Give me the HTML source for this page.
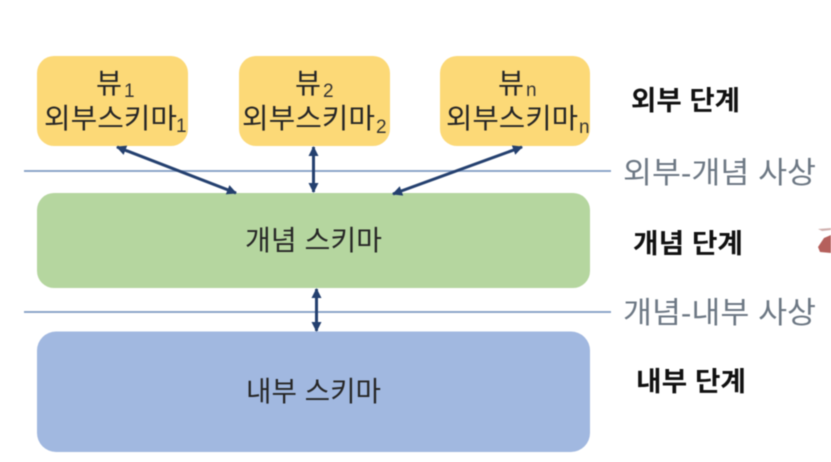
<!DOCTYPE html>
<html lang="ko">
<head>
<meta charset="utf-8">
<style>
html,body{margin:0;padding:0;background:#fff;width:831px;height:462px;overflow:hidden}
svg{display:block;filter:blur(.45px)}
text{font-family:"Liberation Sans","Noto Sans CJK KR",sans-serif}
.t{fill:#262626;font-size:28px}
.s{fill:#333;font-size:19px}
.b{fill:#111;font-size:27px;font-weight:700}
.m{fill:#6d7884;font-size:30px}
</style>
</head>
<body>
<svg width="831" height="462" viewBox="0 0 831 462" xmlns="http://www.w3.org/2000/svg">
<defs>
<marker id="a" viewBox="0 0 10 10" refX="9" refY="5" markerWidth="11" markerHeight="10" markerUnits="userSpaceOnUse" orient="auto-start-reverse"><path d="M0 0L10 5L0 10Z" fill="#24406f"/></marker>
</defs>
<rect width="831" height="462" fill="#fff"/>
<rect x="37" y="56" width="151" height="90" rx="17" fill="#fcd977"/>
<rect x="239" y="56" width="151" height="90" rx="17" fill="#fcd977"/>
<rect x="440" y="56" width="150" height="90" rx="17" fill="#fcd977"/>
<rect x="37" y="193" width="553" height="95" rx="17" fill="#b5d69f"/>
<rect x="37" y="331.500" width="553" height="120.500" rx="19" fill="#a1b8e0"/>
<line x1="24" y1="171" x2="611" y2="171" stroke="#7f9ac2" stroke-width="1.700"/>
<line x1="24" y1="312" x2="611" y2="312" stroke="#7f9ac2" stroke-width="1.700"/>
<g stroke="#24406f" stroke-width="3" marker-start="url(#a)" marker-end="url(#a)">
<line x1="117" y1="147" x2="236" y2="193"/>
<line x1="313.500" y1="147" x2="313.500" y2="192"/>
<line x1="393" y1="194" x2="522" y2="147"/>
<line x1="316.500" y1="289" x2="316.500" y2="331"/>
</g>
<text class="t" x="96" y="93" textLength="26" lengthAdjust="spacingAndGlyphs">뷰</text>
<text class="s" x="124" y="97">1</text>
<text class="t" x="44" y="128" textLength="133" lengthAdjust="spacingAndGlyphs">외부스키마</text>
<text class="s" x="176" y="132">1</text>
<text class="t" x="295" y="93" textLength="26" lengthAdjust="spacingAndGlyphs">뷰</text>
<text class="s" x="323" y="97">2</text>
<text class="t" x="242" y="128" textLength="133" lengthAdjust="spacingAndGlyphs">외부스키마</text>
<text class="s" x="376" y="133">2</text>
<text class="t" x="498" y="93" textLength="26" lengthAdjust="spacingAndGlyphs">뷰</text>
<text class="s" x="526" y="96">n</text>
<text class="t" x="446" y="128" textLength="132" lengthAdjust="spacingAndGlyphs">외부스키마</text>
<text class="s" x="579" y="133">n</text>
<text class="t" x="245" y="250" textLength="137" lengthAdjust="spacingAndGlyphs">개념 스키마</text>
<text class="t" x="246" y="401" textLength="135" lengthAdjust="spacingAndGlyphs">내부 스키마</text>
<text class="b" x="631" y="110" textLength="109" lengthAdjust="spacingAndGlyphs">외부 단계</text>
<text class="b" x="633" y="253" textLength="110" lengthAdjust="spacingAndGlyphs">개념 단계</text>
<text class="b" x="636" y="391" textLength="110" lengthAdjust="spacingAndGlyphs">내부 단계</text>
<text class="m" x="623" y="183" textLength="193" lengthAdjust="spacingAndGlyphs">외부-개념 사상</text>
<text class="m" x="623" y="323" textLength="193" lengthAdjust="spacingAndGlyphs">개념-내부 사상</text>
<path d="M818 229L831 228V230L822 231Z" fill="#d0b0ae"/>
<path d="M831 235L824 238L818 247L820 252L831 253Z" fill="#b5605c"/>
</svg>
</body>
</html>
